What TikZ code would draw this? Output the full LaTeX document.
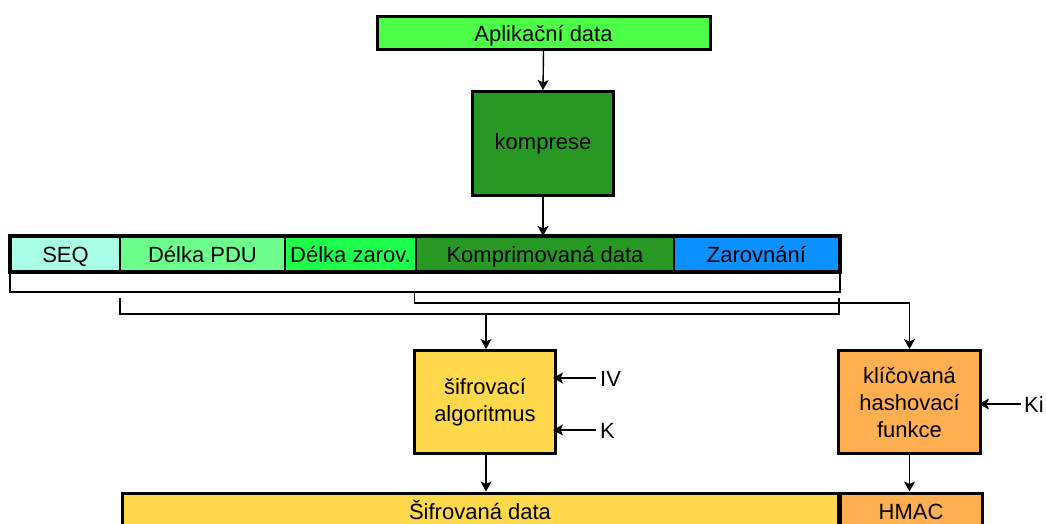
\documentclass[tikz,border=0pt]{standalone}
\usepackage{fontspec}
\setmainfont{Liberation Sans}
\usetikzlibrary{arrows.meta,fit}

\definecolor{appgreen}{RGB}{76,255,70}
\definecolor{darkgreen}{RGB}{40,152,36}
\definecolor{aqua}{RGB}{168,255,230}
\definecolor{lightgreen}{RGB}{108,255,140}
\definecolor{brightgreen}{RGB}{30,255,76}
\definecolor{skyblue}{RGB}{10,145,255}
\definecolor{cipheryellow}{RGB}{255,216,76}
\definecolor{hashorange}{RGB}{255,174,80}

\tikzset{
  txt/.style={font=\fontsize{22}{27}\selectfont, align=center, inner sep=0pt},
  block/.style={txt, draw=black, line width=3pt},
  oneline/.style={text height=16pt, text depth=0pt},
  field/.style={txt, oneline, draw=black, line width=2.2pt, minimum height=34pt},
  link/.style={draw=black, line width=1.4pt},
  arr/.style={link, -{Stealth[length=10pt,width=11pt,inset=2.5pt]}},
}

\begin{document}
\begin{tikzpicture}[x=1pt,y=-1pt]
  \useasboundingbox (0,0) rectangle (1046,523);
  \clip (0,0) rectangle (1046,523);

  % input and compression
  \node[block, oneline, fill=appgreen, minimum width=333pt, minimum height=33pt] (app) at (543.5,33) {Aplikační data};
  \node[block, fill=darkgreen, minimum width=141pt, minimum height=104pt] (komp) at (543,143.5) {komprese};

  % record fields
  \node[field, fill=aqua, minimum width=109pt] (seq) at (65.5,254) {SEQ};
  \node[field, fill=lightgreen, minimum width=165pt] (pdu) at (202.5,254) {Délka PDU};
  \node[field, fill=brightgreen, minimum width=131pt] (zlen) at (350.5,254) {Délka zarov.};
  \node[field, fill=darkgreen, minimum width=258pt] (data) at (545,254) {Komprimovaná data};
  \node[field, fill=skyblue, minimum width=165pt] (pad) at (756.5,254) {Zarovnání};
  \node[draw=black, line width=3pt, inner sep=0pt, fit=(seq)(pad)] (row) {};

  % processing blocks
  \node[block, fill=cipheryellow, minimum width=141pt, minimum height=103pt] (enc) at (485,402) {šifrovací\\algoritmus};
  \node[block, fill=hashorange, minimum width=142pt, minimum height=103pt] (hash) at (909.5,402) {klíčovaná\\hashovací\\funkce};

  % key inputs
  \node[txt, oneline, anchor=west] (iv) at (600,378) {IV};
  \node[txt, oneline, anchor=west] (k) at (600,430) {K};
  \node[txt, oneline, anchor=west] (ki) at (1024,404) {Ki};

  % output record
  \node[block, oneline, fill=cipheryellow, minimum width=716pt, minimum height=36pt, anchor=west] (sif) at (120.5,511) {Šifrovaná data};
  \node[block, oneline, fill=hashorange, minimum width=142pt, minimum height=36pt, anchor=west] (hmac) at (838.5,511) {HMAC};

  % bracket joints
  \coordinate (j1) at (414.5,292);
  \coordinate (c1) at (120,298);
  \coordinate (c2) at (839,298);
  \coordinate (t3) at (486,314);

  % connectors
  \draw[arr] (app.south) -- (komp.north);
  \draw[arr] (komp.south) -- (komp.south |- data.north);

  \draw[link] (seq.south west) -- ++(0,20) -| (pad.south east);
  \draw[arr] (j1) -- ++(0,11) -| (hash.north);
  \draw[link] (c1) -- ++(0,16) -| (c2);
  \draw[arr] (t3) -- (t3 |- enc.north);

  \draw[arr] (enc.south -| t3) -- (t3 |- sif.north);
  \draw[arr] (hash.south) -- (hash.south |- hmac.north);

  \draw[arr] ([xshift=-4pt]iv.west) -- ([xshift=-4pt]iv.west -| enc.east);
  \draw[arr] ([xshift=-4pt]k.west) -- ([xshift=-4pt]k.west -| enc.east);
  \draw[arr] ([xshift=-3pt]ki.west) -- ([xshift=-3pt]ki.west -| hash.east);
\end{tikzpicture}
\end{document}
